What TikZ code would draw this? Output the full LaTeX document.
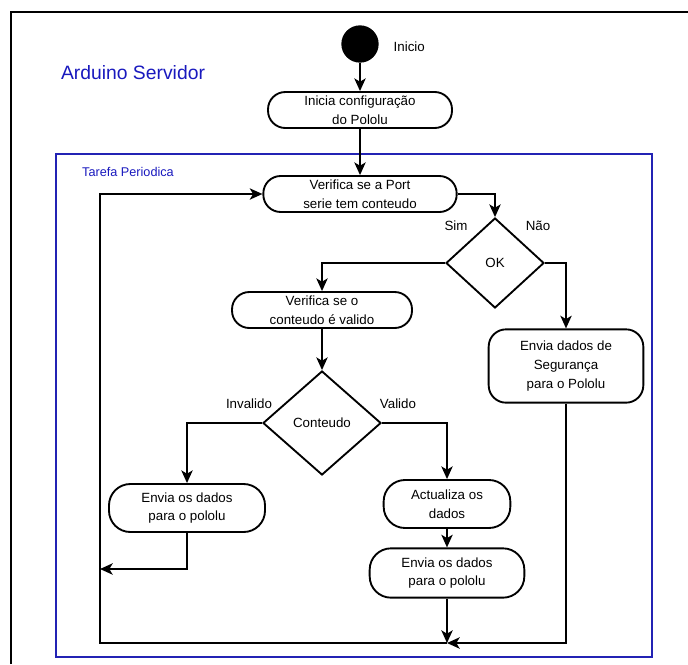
\documentclass[tikz,border=0pt]{standalone}
\usepackage{fontspec}
\setmainfont{Liberation Sans}
\usetikzlibrary{shapes.geometric,arrows.meta,positioning}

\definecolor{frameblue}{RGB}{35,35,180}
\definecolor{titleblue}{RGB}{25,25,190}

\tikzset{
  act/.style={draw, line width=1.4pt, rectangle, rounded corners=13pt, align=center, inner sep=2pt, font=\fontsize{10}{14}\selectfont},
  choice/.style={draw, diamond, line width=1.4pt, inner sep=0pt, font=\fontsize{10}{14}\selectfont},
  flow/.style={line width=1.4pt, -{Stealth[length=9.5pt, width=8.5pt, inset=2.5pt]}},
  lbl/.style={font=\fontsize{10}{14}\selectfont}
}

\begin{document}
\begin{tikzpicture}[x=0.75pt, y=-0.75pt]
\useasboundingbox (0,0) rectangle (688,664);
\draw[line width=2.2pt] (11,664) -- (11,12) -- (688,12);
\draw[frameblue, line width=1.5pt] (56,154) rectangle (652,657);

\node[font=\fontsize{14.5}{18}\selectfont, text=titleblue] (title) at (133,73) {Arduino Servidor};
\node[lbl, text=titleblue, font=\fontsize{9.5}{12}\selectfont] (task) at (128,172) {Tarefa Periodica};

\node[circle, fill, minimum size=28pt, inner sep=0pt] (start) at (360,44) {};
\node[lbl, anchor=west] (startlbl) at (389,47) {Inicio};

\node[act, minimum width=138pt, minimum height=27pt] (init) at (360,110) {Inicia configuração\\do Pololu};
\node[act, minimum width=145pt, minimum height=27pt] (port) at (360,194) {Verifica se a Port\\serie tem conteudo};
\node[choice, minimum width=73.5pt, minimum height=67.5pt] (ok) at (495,263) {OK};
\node[act, minimum width=135pt, minimum height=27pt] (valid) at (322,310) {Verifica se o\\conteudo é valido};
\node[act, minimum width=116pt, minimum height=55pt] (seg) at (566,366) {Envia dados de\\Segurança\\para o Pololu};
\node[choice, minimum width=88.5pt, minimum height=78pt] (cont) at (322,423) {Conteudo};
\node[act, rounded corners=16pt, minimum width=117pt, minimum height=36pt] (sendL) at (187,508) {Envia os dados\\para o pololu};
\node[act, rounded corners=16pt, minimum width=95pt, minimum height=36pt] (upd) at (447,504) {Actualiza os\\dados};
\node[act, rounded corners=16pt, minimum width=116pt, minimum height=37pt] (sendR) at (447,573) {Envia os dados\\para o pololu};

\node[lbl] (sim) at (456,226) {Sim};
\node[lbl] (nao) at (538,226) {Não};
\node[lbl] (inv) at (249,404) {Invalido};
\node[lbl] (val) at (398,404) {Valido};

\coordinate (join) at (447,643);
\coordinate (corner) at (100,643);
\coordinate (retL) at (100,569);

\draw[flow] (start) -- (init);
\draw[flow] (init) -- (port);
\draw[flow] (port.east) -| (ok.north);
\draw[flow] (ok.west) -| (valid.north);
\draw[flow] (ok.east) -| (seg.north);
\draw[flow] (valid) -- (cont);
\draw[flow] (cont.west) -| (sendL.north);
\draw[flow] (cont.east) -| (upd.north);
\draw[flow] (upd) -- (sendR);
\draw[flow] (sendR) -- (join);
\draw[flow] (seg.south) |- (join);
\draw[flow] (sendL.south) |- (retL);
\draw[flow] (join) -- (corner) |- (port.west);
\end{tikzpicture}
\end{document}
